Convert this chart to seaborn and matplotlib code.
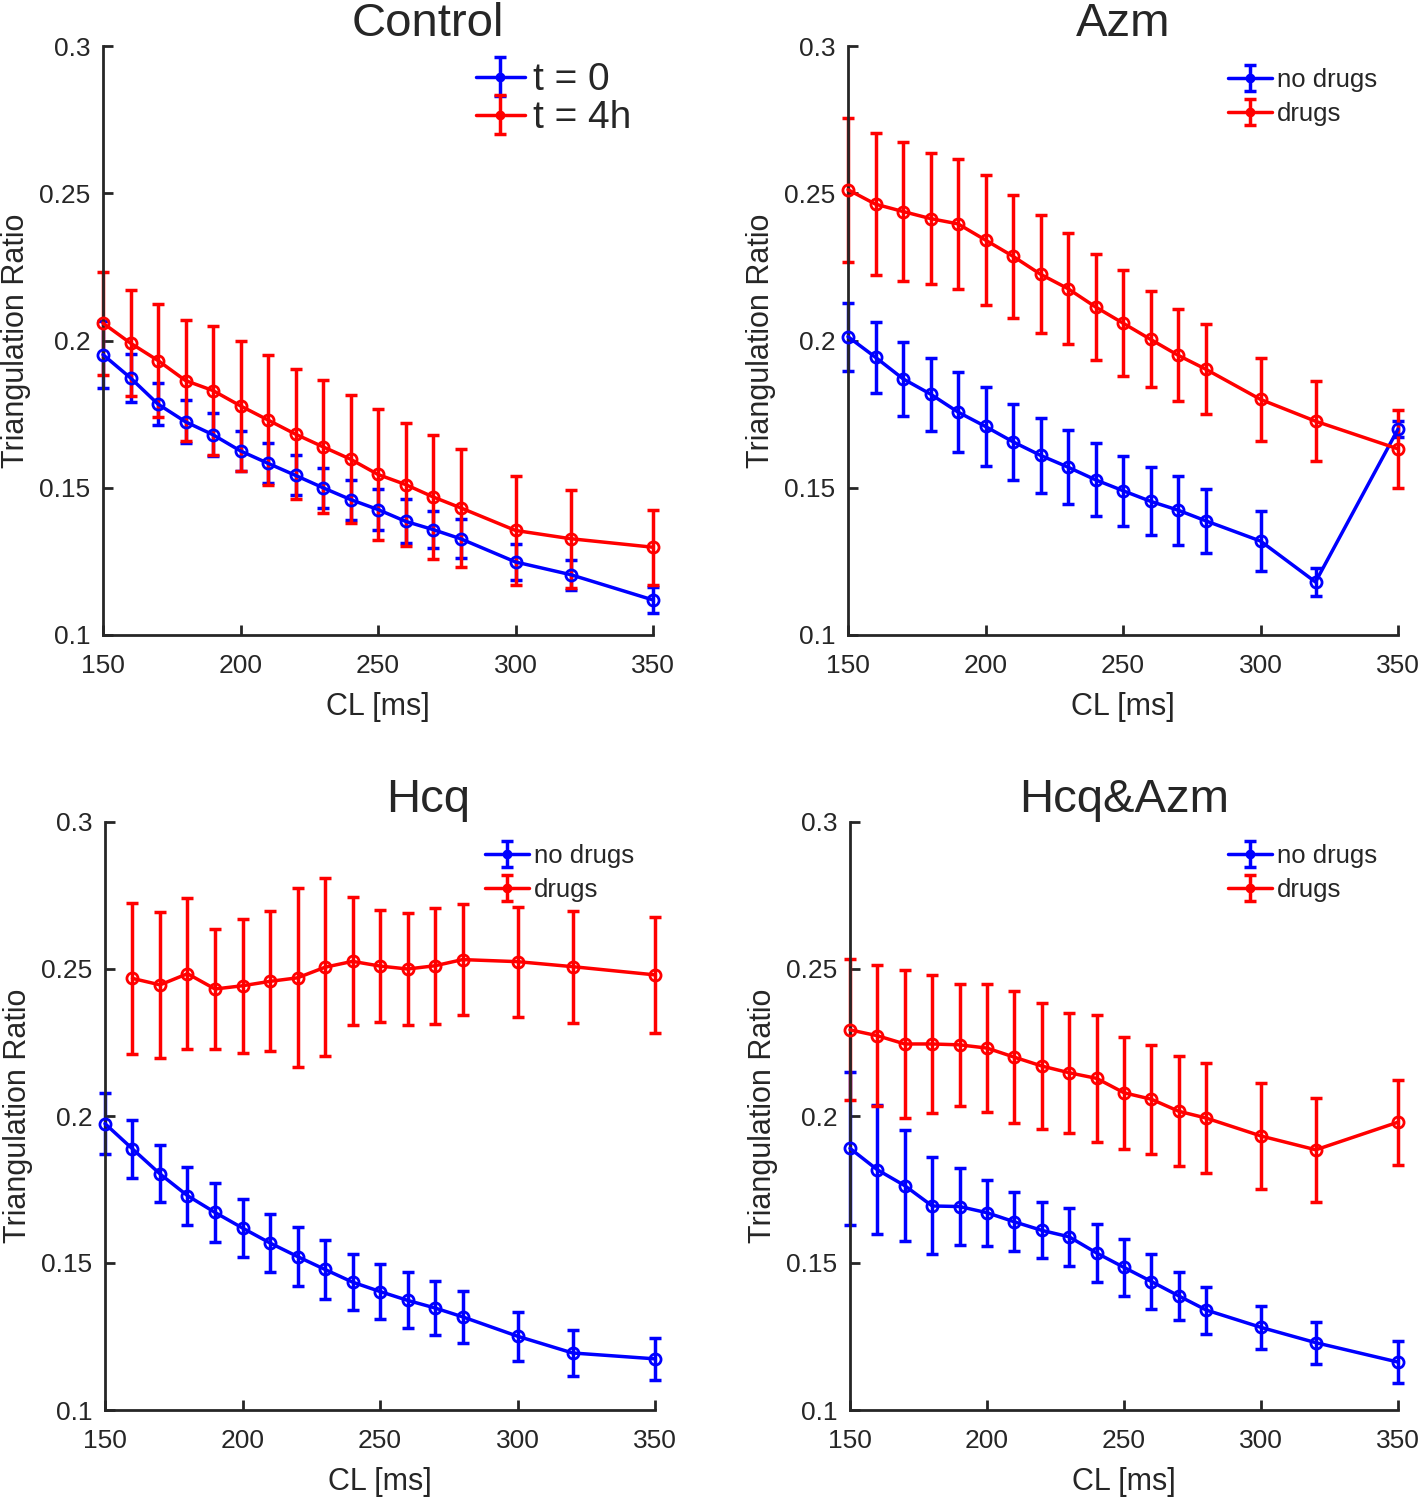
import numpy as np
import pandas as pd
import seaborn as sns
import matplotlib.pyplot as plt
from matplotlib.lines import Line2D
from matplotlib.legend_handler import HandlerTuple

sns.set_style("ticks")
plt.rcParams["font.family"] = ["Liberation Sans", "DejaVu Sans"]

# cycle lengths [ms]
cl = [150, 160, 170, 180, 190, 200, 210, 220, 230, 240, 250, 260, 270, 280, 300, 320, 350]
cl_hcq_drugs = [160, 170, 180, 190, 200, 210, 220, 230, 240, 250, 260, 270, 280, 300, 320, 350]

# Control
ctrl_t0 = [0.1952, 0.1873, 0.1784, 0.1724, 0.1680, 0.1625, 0.1583, 0.1542, 0.1500,
           0.1460, 0.1426, 0.1386, 0.1358, 0.1327, 0.1248, 0.1205, 0.1119]
ctrl_t0_err = [0.0113, 0.0082, 0.0070, 0.0073, 0.0073, 0.0067, 0.0068, 0.0068, 0.0068,
               0.0068, 0.0070, 0.0075, 0.0064, 0.0066, 0.0060, 0.0051, 0.0043]
ctrl_t4 = [0.2059, 0.1991, 0.1932, 0.1864, 0.1830, 0.1778, 0.1730, 0.1682, 0.1639,
           0.1597, 0.1545, 0.1511, 0.1469, 0.1432, 0.1355, 0.1327, 0.1298]
ctrl_t4_err = [0.0175, 0.0180, 0.0193, 0.0205, 0.0219, 0.0220, 0.0220, 0.0220, 0.0226,
               0.0218, 0.0224, 0.0210, 0.0210, 0.0200, 0.0185, 0.0166, 0.0128]

# Azm
azm_no = [0.2013, 0.1943, 0.1870, 0.1818, 0.1757, 0.1708, 0.1656, 0.1610, 0.1570,
          0.1527, 0.1490, 0.1454, 0.1424, 0.1388, 0.1319, 0.1180, 0.1699]
azm_no_err = [0.0115, 0.0120, 0.0125, 0.0124, 0.0135, 0.0133, 0.0130, 0.0127, 0.0125,
              0.0124, 0.0119, 0.0115, 0.0117, 0.0109, 0.0103, 0.0048, 0.0028]
azm_dr = [0.2512, 0.2463, 0.2438, 0.2414, 0.2396, 0.2341, 0.2286, 0.2225, 0.2176,
          0.2114, 0.2059, 0.2004, 0.1950, 0.1903, 0.1800, 0.1726, 0.1632]
azm_dr_err = [0.0245, 0.0240, 0.0235, 0.0222, 0.0221, 0.0220, 0.0208, 0.0200, 0.0188,
              0.0180, 0.0180, 0.0163, 0.0157, 0.0153, 0.0142, 0.0136, 0.0132]

# Hcq
hcq_no = [0.1974, 0.1888, 0.1803, 0.1729, 0.1672, 0.1619, 0.1568, 0.1522, 0.1478,
          0.1435, 0.1403, 0.1373, 0.1347, 0.1317, 0.1251, 0.1194, 0.1174]
hcq_no_err = [0.0104, 0.0098, 0.0097, 0.0099, 0.0099, 0.0099, 0.0099, 0.0099, 0.0099,
              0.0095, 0.0094, 0.0095, 0.0091, 0.0088, 0.0084, 0.0078, 0.0072]
hcq_dr = [0.2468, 0.2446, 0.2484, 0.2432, 0.2443, 0.2458, 0.2470, 0.2506, 0.2526,
          0.2510, 0.2500, 0.2511, 0.2532, 0.2525, 0.2508, 0.2480]
hcq_dr_err = [0.0256, 0.0248, 0.0257, 0.0205, 0.0228, 0.0238, 0.0304, 0.0303, 0.0218,
              0.0190, 0.0190, 0.0197, 0.0190, 0.0187, 0.0190, 0.0197]

# Hcq&Azm
both_no = [0.1890, 0.1817, 0.1763, 0.1694, 0.1692, 0.1671, 0.1640, 0.1611, 0.1589,
           0.1534, 0.1485, 0.1437, 0.1388, 0.1340, 0.1281, 0.1229, 0.1163]
both_no_err = [0.0260, 0.0219, 0.0188, 0.0165, 0.0130, 0.0113, 0.0100, 0.0095, 0.0098,
               0.0100, 0.0098, 0.0095, 0.0083, 0.0080, 0.0074, 0.0071, 0.0071]
both_dr = [0.2293, 0.2273, 0.2245, 0.2245, 0.2242, 0.2231, 0.2200, 0.2170, 0.2147,
           0.2128, 0.2079, 0.2057, 0.2016, 0.1993, 0.1932, 0.1885, 0.1979]
both_dr_err = [0.0240, 0.0240, 0.0253, 0.0234, 0.0207, 0.0218, 0.0225, 0.0215, 0.0205,
               0.0215, 0.0190, 0.0185, 0.0187, 0.0186, 0.0180, 0.0176, 0.0145]

y_ticks = [0.1, 0.15, 0.2, 0.25, 0.3]
y_tick_labels = ["0.1", "0.15", "0.2", "0.25", "0.3"]
x_ticks = [150, 200, 250, 300, 350]

BLUE = (0, 0, 1)
RED = (1, 0, 0)
DARK = "#262626"

# title, series, legend font size, label spacing, handle length, anchor
panels = [
    ("Control", [(cl, ctrl_t0, ctrl_t0_err, BLUE, "t = 0"),
                 (cl, ctrl_t4, ctrl_t4_err, RED, "t = 4h")], 28, 0.05, 1.25, (0.995, 1.005)),
    ("Azm", [(cl, azm_no, azm_no_err, BLUE, "no drugs"),
             (cl, azm_dr, azm_dr_err, RED, "drugs")], 18.5, 0.4, 1.7, (0.985, 0.985)),
    ("Hcq", [(cl, hcq_no, hcq_no_err, BLUE, "no drugs"),
             (cl_hcq_drugs, hcq_dr, hcq_dr_err, RED, "drugs")], 18.5, 0.4, 1.7, (0.985, 0.985)),
    ("Hcq&Azm", [(cl, both_no, both_no_err, BLUE, "no drugs"),
                 (cl, both_dr, both_dr_err, RED, "drugs")], 18.5, 0.4, 1.7, (0.985, 0.985)),
]

fig = plt.figure(figsize=(14.24, 15), dpi=100)
W, H = 1424, 1500
boxes = [(103, 46, 653, 635), (848, 46, 1398, 635),
         (105, 822, 655, 1410), (850, 822, 1398, 1410)]
title_x = [0.59, 0.5, 0.587, 0.5]

for i, (title, series, leg_fs, leg_sp, hlen, anchor) in enumerate(panels):
    x0, y0, x1, y1 = boxes[i]
    ax = fig.add_axes([x0 / W, 1 - y1 / H, (x1 - x0) / W, (y1 - y0) / H])
    handles, labels = [], []
    for xs, ys, errs, color, label in series:
        df = pd.DataFrame({"CL": xs, "ratio": ys})
        sns.lineplot(data=df, x="CL", y="ratio", ax=ax, color=color, lw=2.5,
                     marker="o", ms=8, mfc="none", mec=color, mew=2,
                     errorbar=None, clip_on=False, zorder=3)
        eb = ax.errorbar(xs, ys, yerr=errs, fmt="none", ecolor=color,
                         elinewidth=2.5, capsize=4, capthick=2.5,
                         clip_on=False, zorder=2)
        proxy = Line2D([], [], color=color, lw=2.5, marker="o", ms=6)
        handles.append((proxy, eb))
        labels.append(label)

    ax.set_xlim(150, 350)
    ax.set_ylim(0.1, 0.3)
    ax.set_xticks(x_ticks)
    ax.set_yticks(y_ticks)
    ax.set_yticklabels(y_tick_labels)
    sns.despine(ax=ax)
    for s in ["left", "bottom"]:
        ax.spines[s].set_color(DARK)
        ax.spines[s].set_linewidth(2)
    ax.tick_params(direction="in", length=7, width=2, colors=DARK, labelsize=19)
    ax.tick_params(axis="x", pad=14)
    ax.tick_params(axis="y", pad=9)
    ax.set_xlabel("CL [ms]", fontsize=22, color=DARK, labelpad=10)
    ax.set_ylabel("Triangulation Ratio", fontsize=22, color=DARK, labelpad=6)
    ax.set_title(title, fontsize=34, x=title_x[i], pad=6)
    ax.legend(handles, labels, loc="upper right", bbox_to_anchor=anchor,
              frameon=False, fontsize=leg_fs,
              handler_map={tuple: HandlerTuple(ndivide=1)},
              handlelength=hlen, handletextpad=0.2, labelspacing=leg_sp,
              borderaxespad=0.1)

fig.savefig("out.png", dpi=100)
